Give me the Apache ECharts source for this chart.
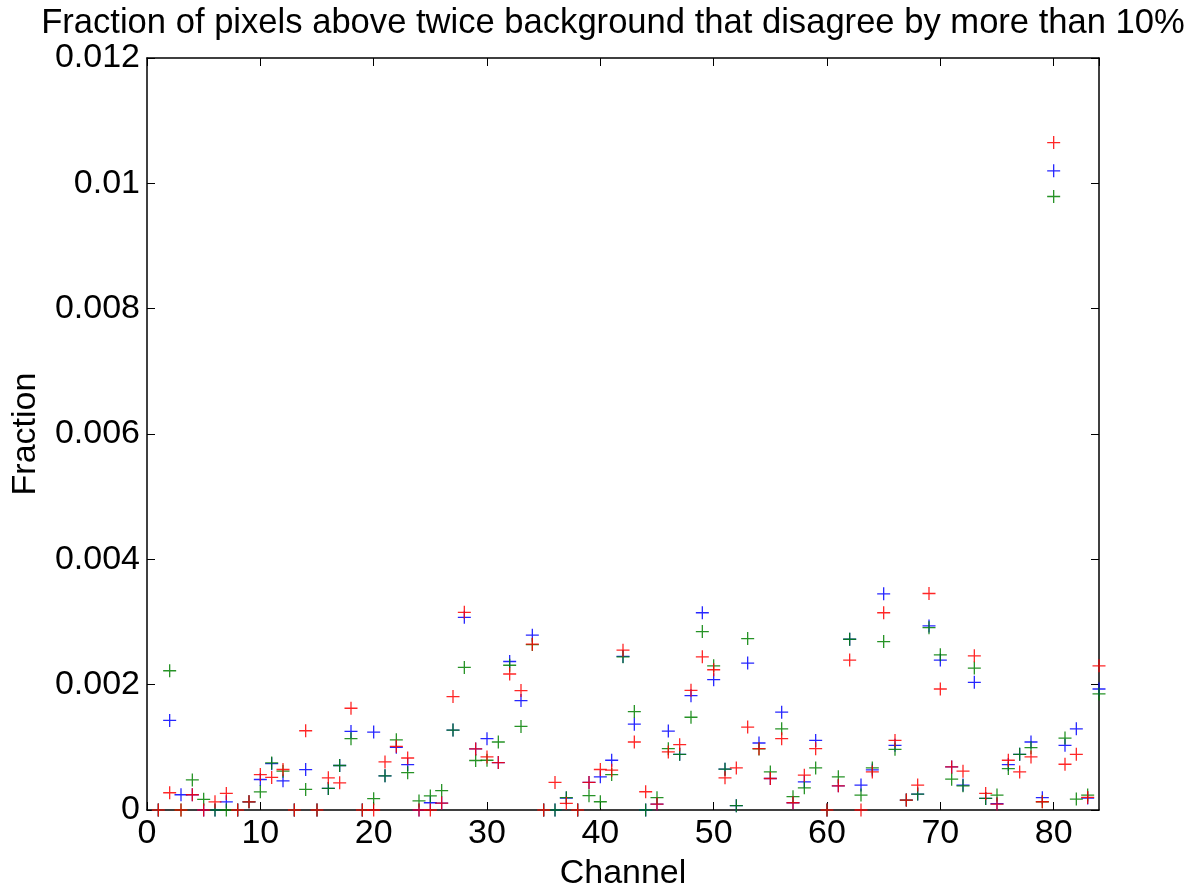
<!DOCTYPE html>
<html>
<head>
<meta charset="utf-8">
<script src="https://cdn.jsdelivr.net/npm/echarts@6/dist/echarts.min.js"></script>
<style>
html,body{margin:0;padding:0;background:#fff;}
#chart{width:1200px;height:888px;}
</style>
</head>
<body>
<div id="chart"></div>
<script>
// Values in units of 1e-3 (fraction x 1000), channels 1..84
const channels = Array.from({length: 84}, (_, i) => i + 1);
const UNIT = 1e-3;
const redVals = [
  0, 0.275, 0, 0.243, 0, 0.13, 0.265, 0, 0.13, 0.566,
  0.52, 0.646, 0, 1.265, 0, 0.513, 0.434, 1.624, 0, 0,
  0.767, 1.016, 0.83, 0, 0, 0.111, 1.81, 3.155, 0.975, 0.847,
  0.757, 2.17, 1.905, 2.646, 0, 0.44, 0.106, 0, 0.44, 0.646,
  0.635, 2.55, 1.085, 0.291, 0.095, 0.926, 1.042, 1.91, 2.444, 2.238,
  0.513, 0.672, 1.323, 0.979, 0.503, 1.138, 0.116, 0.556, 0.979, 0,
  0.386, 2.392, 0, 0.608, 3.148, 1.111, 0.159, 0.397, 3.455, 1.931,
  0.688, 0.619, 2.46, 0.265, 0.095, 0.794, 0.608, 0.847, 0.132, 10.65,
  0.73, 0.889, 0.2, 2.3
];
const blueVals = [
  0, 1.429, 0.243, 0.243, 0, 0, 0.13, 0, 0.13, 0.487,
  0.74, 0.466, 0, 0.645, 0, 0.344, 0.71, 1.254, 0, 1.243,
  0.545, 1.0, 0.725, 0, 0.116, 0.111, 1.275, 3.075, 0.975, 1.138,
  0.757, 2.37, 1.746, 2.79, 0, 0, 0.19, 0, 0.44, 0.53,
  0.794, 2.45, 1.37, 0, 0.095, 1.26, 0.889, 1.825, 3.148, 2.08,
  0.651, 0.069, 2.344, 1.069, 0.503, 1.561, 0.116, 0.45, 1.111, 0,
  0.386, 2.725, 0.397, 0.64, 3.45, 1.032, 0.159, 0.254, 2.937, 2.392,
  0.688, 0.397, 2.037, 0.185, 0.1, 0.725, 0.889, 1.085, 0.196, 10.2,
  1.032, 1.296, 0.19, 1.931
];
const greenVals = [
  0, 2.222, 0, 0.48, 0.17, 0, 0, 0, 0.13, 0.29,
  0.751, 0.62, 0, 0.328, 0, 0.344, 0.71, 1.138, 0, 0.18,
  0.545, 1.12, 0.595, 0.145, 0.225, 0.31, 1.275, 2.275, 0.79, 0.794,
  1.085, 2.31, 1.333, 2.64, 0, 0, 0.196, 0, 0.228, 0.132,
  0.566, 2.444, 1.571, 0, 0.196, 0.979, 0.889, 1.48, 2.847, 2.3,
  0.651, 0.069, 2.735, 0.975, 0.608, 1.296, 0.212, 0.354, 0.672, 0,
  0.529, 2.725, 0.238, 0.672, 2.688, 0.968, 0.159, 0.254, 2.91, 2.476,
  0.492, 0.386, 2.265, 0.185, 0.238, 0.661, 0.889, 0.995, 0.132, 9.79,
  1.148, 0.175, 0.238, 1.852
];
const xTicks = [0, 10, 20, 30, 40, 50, 60, 70, 80];
const yTicks = [0, 0.002, 0.004, 0.006, 0.008, 0.01, 0.012];

const FONT = 'Liberation Sans';
const toData = vals => channels.map((c, i) => [c, vals[i] * UNIT]);
const CROSS = 'path://M0,-1L0,1M-1,0L1,0';

function crossSeries(name, vals, color) {
  return {
    name: name,
    type: 'scatter',
    xAxisIndex: 0,
    yAxisIndex: 0,
    data: toData(vals),
    symbol: CROSS,
    symbolSize: 13,
    clip: false,
    itemStyle: { color: 'none', borderColor: color, borderWidth: 1.3, opacity: 0.85 },
    emphasis: { disabled: true },
    animation: false
  };
}

const chart = echarts.init(document.getElementById('chart'), null, {renderer: 'canvas'});
const axisLineStyle = { color: '#000', width: 1.5 };
const tickStyle = { show: true, inside: true, length: 8, lineStyle: { color: '#000', width: 1 } };
chart.setOption({
  backgroundColor: '#fff',
  animation: false,
  title: {
    text: 'Fraction of pixels above twice background that disagree by more than 10%',
    left: 608,
    top: 1,
    textAlign: 'center',
    textStyle: { fontFamily: FONT, fontSize: 34.6, fontWeight: 'normal', color: '#000' }
  },
  grid: { left: 147, right: 101, top: 58, bottom: 78, containLabel: false, outerBoundsMode: 'none' },
  xAxis: [
    {
      type: 'value', min: 0, max: 84, interval: 10, position: 'bottom',
      name: 'Channel', nameLocation: 'middle', nameGap: 47,
      nameTextStyle: { fontFamily: FONT, fontSize: 34, color: '#000' },
      axisLine: { show: true, onZero: false, lineStyle: axisLineStyle },
      axisTick: tickStyle,
      axisLabel: { show: true, showMaxLabel: false, fontFamily: FONT, fontSize: 34, color: '#000', margin: 7,
        formatter: v => xTicks.includes(v) ? String(v) : '' },
      splitLine: { show: false }
    },
    {
      type: 'value', min: 0, max: 84, interval: 10, position: 'top',
      axisLine: { show: true, onZero: false, lineStyle: axisLineStyle },
      axisTick: tickStyle,
      axisLabel: { show: false },
      splitLine: { show: false }
    }
  ],
  yAxis: [
    {
      type: 'value', min: 0, max: 0.012, interval: 0.002, position: 'left',
      name: 'Fraction', nameLocation: 'middle', nameGap: 104, nameRotate: 90,
      nameTextStyle: { fontFamily: FONT, fontSize: 34, color: '#000' },
      axisLine: { show: true, onZero: false, lineStyle: axisLineStyle },
      axisTick: tickStyle,
      axisLabel: { fontFamily: FONT, fontSize: 34, color: '#000', margin: 7,
        formatter: v => {
          const t = yTicks.find(k => Math.abs(k - v) < 1e-9);
          if (t === undefined) return '';
          return String(parseFloat(t.toFixed(3)));
        } },
      splitLine: { show: false }
    },
    {
      type: 'value', min: 0, max: 0.012, interval: 0.002, position: 'right',
      axisLine: { show: true, onZero: false, lineStyle: axisLineStyle },
      axisTick: tickStyle,
      axisLabel: { show: false },
      splitLine: { show: false }
    }
  ],
  series: [
    crossSeries('blue', blueVals, '#0000ff'),
    crossSeries('green', greenVals, '#008000'),
    crossSeries('red', redVals, '#ff0000')
  ]
});
</script>
</body>
</html>
